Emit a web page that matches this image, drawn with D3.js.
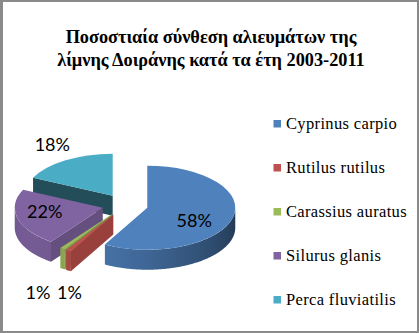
<!DOCTYPE html>
<meta charset="utf-8">
<style>
body { margin: 0; background: #fff; }
.title { font-family: "Liberation Serif", serif; font-weight: bold; font-size: 18.3px; fill: #000; }
.legend text { font-family: "Liberation Serif", serif; font-size: 16.5px; letter-spacing: 0.35px; fill: #000; }
.pct { font-family: Lato, "Open Sans", sans-serif; font-size: 18px; fill: #000; }
</style>
<svg width="419" height="333"></svg>
<script src="https://d3js.org/d3.v7.min.js"></script>
<script>

var titleLines = ["Ποσοστιαία σύνθεση αλιευμάτων της", "λίμνης Δοιράνης κατά τα έτη 2003-2011"];
var categories = ["Cyprinus carpio", "Rutilus rutilus", "Carassius auratus", "Silurus glanis", "Perca fluviatilis"];
var values = [58, 1, 1, 22, 18];
var colors = ["#4F81BD", "#C0504D", "#9BBB59", "#8064A2", "#4BACC6"];

var svg = d3.select("svg"),
    width = +svg.attr("width"),
    height = +svg.attr("height");

// pie geometry
var cx = 125, cy = 205, rx = 88, ry = 42, depth = 20, explode = 23;
var tilt = ry / rx;
var deg = Math.PI / 180;

// label placement: [radius factor, extra dy]
var labelLayout = [[0.55, 7], [0.98, 43], [1.5, 27], [0.68, -3], [1.28, -6]];

svg.append("rect")
    .attr("x", 1).attr("y", 1)
    .attr("width", width - 2).attr("height", height - 2)
    .attr("fill", "#fff")
    .attr("stroke", "#8a8a8a")
    .attr("stroke-width", 2);
svg.append("rect")
    .attr("x", 2).attr("y", 0).attr("width", 1).attr("height", height)
    .attr("fill", "#8a8a8a");

svg.selectAll(".title")
    .data(titleLines)
  .enter().append("text")
    .attr("class", "title")
    .attr("x", 211)
    .attr("y", function(d, i) { return 43 + i * 23; })
    .attr("text-anchor", "middle")
    .text(function(d) { return d; });

var pie = d3.pie().sort(null).value(function(d) { return d; });
var slices = pie(values).map(function(d, i) {
  d.i = i;
  d.mid = (d.startAngle + d.endAngle) / 2;
  d.ox = cx + explode * Math.sin(d.mid);
  d.oy = cy - explode * tilt * Math.cos(d.mid);
  return d;
});

function rim(d, a, z) {
  return [d.ox + rx * Math.sin(a), d.oy - ry * Math.cos(a) + z];
}
function shade(c, k) {
  var r = d3.rgb(c);
  return d3.rgb(r.r * k, r.g * k, r.b * k).formatHex();
}
function outerK(a) { return 0.66 + 0.25 * Math.sin(a - 150 * deg); }
function cutK(n) { return 0.45 + 0.35 * Math.max(0, Math.cos(n - 110 * deg)); }

var line = d3.line();
var arc = d3.arc().innerRadius(0).outerRadius(rx);
var defs = svg.append("defs");

// back slices first
var order = slices.slice().sort(function(a, b) { return -Math.cos(a.mid) + Math.cos(b.mid); });

var pieG = svg.append("g");

order.forEach(function(d) {
  var g = pieG.append("g");
  var c = colors[d.i];

  // cut walls facing the viewer
  [[d.startAngle, d.startAngle - Math.PI / 2], [d.endAngle, d.endAngle + Math.PI / 2]].forEach(function(w) {
    if (Math.cos(w[1]) < -1e-6) {
      var p0 = [d.ox, d.oy], p1 = rim(d, w[0], 0);
      g.append("path")
          .attr("d", line([p0, p1, [p1[0], p1[1] + depth], [p0[0], p0[1] + depth]]) + "Z")
          .attr("fill", shade(c, cutK(w[1])));
    }
  });

  // outer wall on the front half
  var a0 = Math.max(d.startAngle, Math.PI / 2), a1 = Math.min(d.endAngle, 3 * Math.PI / 2);
  if (a1 > a0) {
    var angs = d3.range(a0, a1, 0.01).concat([a1]);
    var top = angs.map(function(a) { return rim(d, a, 0); });
    var bot = angs.map(function(a) { return rim(d, a, depth); }).reverse();
    var xl = rim(d, a1, 0)[0], xr = rim(d, a0, 0)[0];
    var grad = defs.append("linearGradient")
        .attr("id", "wall" + d.i)
        .attr("gradientUnits", "userSpaceOnUse")
        .attr("x1", xl).attr("x2", xr).attr("y1", 0).attr("y2", 0);
    d3.range(0, 9).forEach(function(j) {
      var a = a1 - (a1 - a0) * j / 8;
      var x = rim(d, a, 0)[0];
      grad.append("stop")
          .attr("offset", xr > xl ? (x - xl) / (xr - xl) : 0)
          .attr("stop-color", shade(c, outerK(a)));
    });
    g.append("path")
        .attr("d", line(top.concat(bot)) + "Z")
        .attr("fill", "url(#wall" + d.i + ")");
  }

  // top face
  g.append("path")
      .attr("transform", "translate(" + d.ox + "," + d.oy + ") scale(1," + tilt + ")")
      .attr("d", arc(d))
      .attr("fill", c);
});

// percentage labels
svg.selectAll(".pct")
    .data(slices)
  .enter().append("text")
    .attr("class", "pct")
    .attr("text-anchor", "middle")
    .attr("dy", "0.35em")
    .attr("x", function(d) { return d.ox + labelLayout[d.i][0] * rx * Math.sin(d.mid); })
    .attr("y", function(d) { return d.oy - labelLayout[d.i][0] * ry * Math.cos(d.mid) + labelLayout[d.i][1]; })
    .text(function(d) { return d.value + "%"; });

// legend
var ly = d3.scaleLinear().domain([0, categories.length - 1]).range([129, 305]);
var legend = svg.append("g").attr("class", "legend")
  .selectAll("g")
    .data(categories)
  .enter().append("g")
    .attr("transform", function(d, i) { return "translate(273," + ly(i) + ")"; });

legend.append("rect")
    .attr("x", 0.5).attr("y", -9)
    .attr("width", 7.5).attr("height", 7.5)
    .attr("fill", function(d, i) { return colors[i]; });

legend.append("text")
    .attr("x", 13)
    .text(function(d) { return d; });

</script>
